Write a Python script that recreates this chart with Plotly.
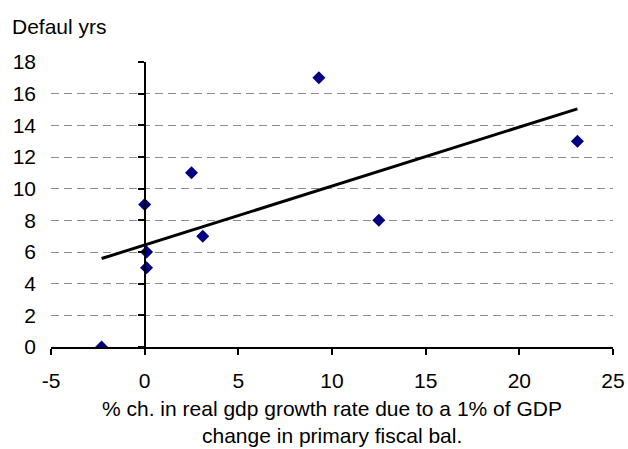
import numpy as np
import plotly.graph_objects as go

# Data
fiscal_growth_effect = [-2.3, 0.0, 0.1, 0.1, 3.1, 2.5, 9.3, 12.5, 23.1]
default_years = [0, 9, 6, 5, 7, 11, 17, 8, 13]
x_tick_vals = [-5, 0, 5, 10, 15, 20, 25]
x_tick_text = ["-5", "0", "5", "10", "15", "20", "25"]
y_tick_vals = [0, 2, 4, 6, 8, 10, 12, 14, 16, 18]

y_title = "Defaul yrs"
x_title_line1 = "% ch. in real gdp growth rate due to a 1% of GDP"
x_title_line2 = "change in primary fiscal bal."

FONT = "Liberation Sans, Arial, sans-serif"
FS = 21

# Linear trendline (least squares) over the data range
slope, intercept = np.polyfit(fiscal_growth_effect, default_years, 1)
trend_x = [min(fiscal_growth_effect), max(fiscal_growth_effect)]
trend_y = [slope * v + intercept for v in trend_x]

fig = go.Figure()
fig.add_trace(go.Scatter(
    x=fiscal_growth_effect, y=default_years, mode="markers",
    marker=dict(symbol="diamond", size=10, color="#000080", line=dict(width=0)),
    showlegend=False, hoverinfo="x+y",
))
fig.add_trace(go.Scatter(
    x=trend_x, y=trend_y, mode="lines",
    line=dict(color="black", width=3),
    showlegend=False, hoverinfo="skip",
))
# invisible trace to anchor the y-axis drawn at x = 0
fig.add_trace(go.Scatter(x=[None], y=[None], yaxis="y2", showlegend=False, hoverinfo="skip"))

fig.update_layout(
    width=628, height=449,
    margin=dict(l=51, r=15, t=62, b=102, autoexpand=False),
    paper_bgcolor="white", plot_bgcolor="white",
    font=dict(family=FONT, size=FS, color="black"),
    xaxis=dict(
        range=[-5, 25], tickvals=x_tick_vals, ticktext=x_tick_text,
        ticks="outside", ticklen=6,
        tickwidth=2, tickcolor="black", showline=True, linecolor="black",
        linewidth=2, showgrid=False, zeroline=False, ticklabelstandoff=8,
        tickfont=dict(size=FS), automargin=False,
    ),
    yaxis=dict(
        range=[0, 18], tickvals=y_tick_vals, ticks="", showline=False,
        showgrid=True, gridcolor="#8c8c8c", gridwidth=1, griddash="8px,5px",
        zeroline=False, ticklabelstandoff=14, tickfont=dict(size=FS),
        automargin=False,
    ),
    yaxis2=dict(
        range=[0, 18], tickvals=y_tick_vals, overlaying="y", anchor="free",
        position=1 / 6, side="left", showline=True, linecolor="black",
        linewidth=2, ticks="outside", ticklen=6, tickwidth=2,
        tickcolor="black", showticklabels=False, showgrid=False, zeroline=False,
        automargin=False,
    ),
    annotations=[
        dict(text=y_title, xref="paper", yref="paper", x=-0.073, y=1.126,
             xanchor="left", yanchor="middle", showarrow=False,
             font=dict(size=FS)),
        dict(text=x_title_line1, xref="paper", yref="paper", x=0.5, y=-0.2175,
             xanchor="center", yanchor="middle", showarrow=False,
             font=dict(size=FS)),
        dict(text=x_title_line2, xref="paper", yref="paper", x=0.5, y=-0.31,
             xanchor="center", yanchor="middle", showarrow=False,
             font=dict(size=FS)),
    ],
)

fig.write_html("out.html", config={"displayModeBar": False},
               post_script="document.body.style.margin='0';")
